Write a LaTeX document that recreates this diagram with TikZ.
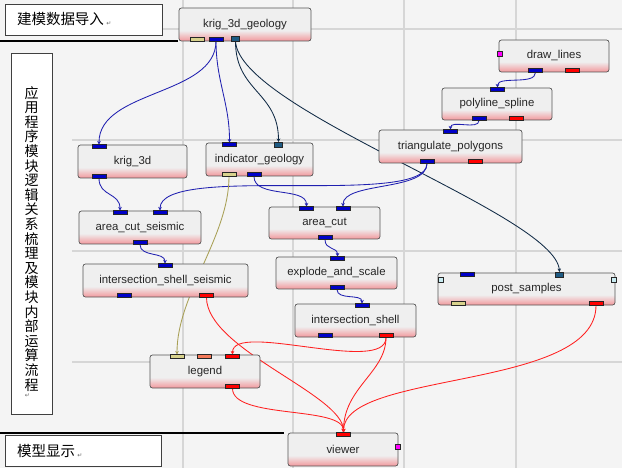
\documentclass[tikz,border=0pt]{standalone}
\usepackage{fontspec}
\setmainfont{Liberation Sans}
\newfontfamily\cjkFont{Noto Sans CJK SC}
\newfontfamily\symFont{DejaVu Sans}
\usetikzlibrary{arrows.meta}
\definecolor{bgGray}{HTML}{F4F4F4}
\definecolor{gridGray}{HTML}{D6D6D6}
\definecolor{boxGray}{HTML}{EFEFEF}
\definecolor{pinkShade}{HTML}{F2989C}
\definecolor{moduleBorder}{HTML}{555555}
\definecolor{portBlue}{HTML}{0000C8}
\definecolor{portRed}{HTML}{FF0000}
\definecolor{portTan}{HTML}{D8D28C}
\definecolor{portTeal}{HTML}{1E5A82}
\definecolor{portSalmon}{HTML}{F47A5A}
\definecolor{portMagenta}{HTML}{FF00FF}
\definecolor{portCyan}{HTML}{C8ECF2}
\definecolor{linkBlue}{HTML}{2020B0}
\definecolor{linkNavy}{HTML}{102A45}
\definecolor{linkOlive}{HTML}{A89F55}
\definecolor{linkRed}{HTML}{FF2020}
\pgfdeclareverticalshading{moduleShade}{100bp}{color(0bp)=(pinkShade); color(25bp)=(pinkShade); color(41bp)=(boxGray); color(100bp)=(boxGray)}
\pgfdeclarelayer{gridLayer}
\pgfdeclarelayer{linkLayer}
\pgfsetlayers{gridLayer,linkLayer,main}
\def\portWidth{14pt}
\def\portHeight{4pt}
\newcommand{\retMark}{\,{\symFont\fontsize{6}{6}\selectfont\color{black!60}\raisebox{-1pt}{↵}}}
\tikzset{
  gridLine/.style={draw=gridGray, line width=1.2pt},
  noteBox/.style={
    draw=black!75,
    fill=white,
    line width=0.6pt,
    inner sep=0pt,
    align=left,
    font=\cjkFont\fontsize{14.5}{16}\selectfont
  },
  logicText/.style={align=center, inner sep=0pt, font=\cjkFont\fontsize{14}{14.6}\selectfont},
  moduleNode/.style={
    draw=moduleBorder,
    line width=0.7pt,
    rounded corners=2.5pt,
    shading=moduleShade,
    minimum height=33pt,
    inner sep=0pt,
    text=black!85,
    font=\fontsize{11.4}{13}\selectfont
  },
  portNode/.style={
    draw=black!85,
    line width=0.5pt,
    minimum width=\portWidth,
    minimum height=\portHeight,
    inner sep=0pt,
    outer sep=0pt
  },
  bluePort/.style={portNode, fill=portBlue},
  redPort/.style={portNode, fill=portRed},
  tanPort/.style={portNode, fill=portTan},
  salmonPort/.style={portNode, fill=portSalmon},
  tealPort/.style={portNode, fill=portTeal, minimum width=8pt, minimum height=5pt},
  sidePort/.style={portNode, fill=portCyan, minimum width=5pt, minimum height=5pt},
  link/.style={line width=0.85pt, -{Stealth[length=3.5pt,width=3.5pt]}},
  blueLink/.style={link, draw=linkBlue},
  navyLink/.style={link, draw=linkNavy},
  oliveLink/.style={link, draw=linkOlive},
  redLink/.style={link, draw=linkRed}
}

\begin{document}
\begin{tikzpicture}[x=1pt,y=-1pt]
  \useasboundingbox (0,0) rectangle (622,468);
  \begin{pgfonlayer}{gridLayer}
    \fill[bgGray] (0,0) rectangle (622,468);
    \foreach \gx in {183,293,404,516}
      \draw[gridLine] (\gx,0) -- (\gx,468);
    \foreach \gy in {29,140,251,362}
      \draw[gridLine] (72,\gy) -- (622,\gy);
  \end{pgfonlayer}

  \draw[line width=2pt] (0,41) -- (178,41);
  \draw[line width=2pt] (0,433) -- (284,433);

  \node[noteBox, minimum width=157pt, minimum height=31pt, text width=133pt] (importBox) at (83.5,19.5) {建模数据导入\retMark};
  \node[noteBox, minimum width=156pt, minimum height=31pt, text width=132pt] (displayBox) at (83,450.5) {模型显示\retMark};
  \node[noteBox, minimum width=41pt, minimum height=361pt] (logicBox) at (31.5,233.5) {};
  \node[logicText, anchor=north] (logicLabel) at (31.5,86) {应\\用\\程\\序\\模\\块\\逻\\辑\\关\\系\\梳\\理\\及\\模\\块\\内\\部\\运\\算\\流\\程\\[-7pt]\hspace*{-8pt}{\symFont\fontsize{6}{6}\selectfont\color{black!60}↵}};

  \node[moduleNode, minimum width=132pt] (krigGeo) at (245,24.5) {krig\_3d\_geology};
  \node[moduleNode, minimum width=110pt, minimum height=32pt] (drawLines) at (554,56) {draw\_lines};
  \node[moduleNode, minimum width=110pt, minimum height=32pt] (spline) at (497,104) {polyline\_spline};
  \node[moduleNode, minimum width=143pt] (triangulate) at (450.5,146.5) {triangulate\_polygons};
  \node[moduleNode, minimum width=109pt] (krig) at (132.5,161.5) {krig\_3d};
  \node[moduleNode, minimum width=107pt] (indicator) at (259.5,159.5) {indicator\_geology};
  \node[moduleNode, minimum width=122pt] (cutSeismic) at (140,227.5) {area\_cut\_seismic};
  \node[moduleNode, minimum width=165pt] (shellSeismic) at (165.5,280.5) {intersection\_shell\_seismic};
  \node[moduleNode, minimum width=111pt, minimum height=32pt] (areaCut) at (324.5,223) {area\_cut};
  \node[moduleNode, minimum width=121pt, minimum height=32pt] (explode) at (336.5,273) {explode\_and\_scale};
  \node[moduleNode, minimum width=121pt] (shell) at (355.5,320.5) {intersection\_shell};
  \node[moduleNode, minimum width=177pt, minimum height=32pt] (post) at (526.5,289) {post\_samples};
  \node[moduleNode, minimum width=110pt] (legend) at (205,371.5) {legend};
  \node[moduleNode, minimum width=110pt] (viewer) at (343,449.5) {viewer};

  \node[tanPort] (krigGeoTan) at (197,39) {};
  \node[bluePort] (krigGeoBlue) at (216,39) {};
  \node[tealPort] (krigGeoTeal) at (235.5,39) {};
  \node[sidePort, fill=portMagenta] (drawLinesSide) at (499.5,53.5) {};
  \node[bluePort] (drawLinesBlue) at (535.5,70.5) {};
  \node[redPort] (drawLinesRed) at (572.5,70.5) {};
  \node[bluePort] (splineIn) at (497.5,89.5) {};
  \node[bluePort] (splineBlue) at (479,118.5) {};
  \node[redPort] (splineRed) at (516,118.5) {};
  \node[bluePort] (triIn) at (450.5,131.5) {};
  \node[bluePort] (triBlue) at (427,161.5) {};
  \node[redPort] (triRed) at (475,161.5) {};
  \node[bluePort] (krigIn) at (99,146.5) {};
  \node[bluePort] (krigBlue) at (99,176.5) {};
  \node[bluePort] (indIn) at (229.5,144.5) {};
  \node[tealPort] (indTeal) at (278.5,144.5) {};
  \node[tanPort] (indTan) at (229,174.5) {};
  \node[bluePort] (indBlue) at (254,174.5) {};
  \node[bluePort] (cutSeismicInA) at (120,212.5) {};
  \node[bluePort] (cutSeismicInB) at (160,212.5) {};
  \node[bluePort] (cutSeismicBlue) at (140,242.5) {};
  \node[bluePort] (shellSeismicIn) at (165,265.5) {};
  \node[bluePort] (shellSeismicBlue) at (124,295.5) {};
  \node[redPort] (shellSeismicRed) at (206.5,295.5) {};
  \node[bluePort] (areaCutInA) at (306.5,208.5) {};
  \node[bluePort] (areaCutInB) at (343,208.5) {};
  \node[bluePort] (areaCutBlue) at (325,237.5) {};
  \node[bluePort] (explodeIn) at (337.5,258.5) {};
  \node[bluePort] (explodeBlue) at (337,287.5) {};
  \node[bluePort] (shellIn) at (362,305.5) {};
  \node[bluePort] (shellBlue) at (325,335.5) {};
  \node[redPort] (shellRed) at (386,335.5) {};
  \node[bluePort] (postIn) at (467.5,274.5) {};
  \node[tealPort] (postTeal) at (559.5,274.5) {};
  \node[sidePort] (postLeft) at (440.5,279.5) {};
  \node[sidePort] (postRight) at (613.5,279.5) {};
  \node[tanPort] (postTan) at (458,303.5) {};
  \node[redPort] (postRed) at (596,303.5) {};
  \node[tanPort] (legendTan) at (177,356.5) {};
  \node[salmonPort] (legendSalmon) at (204.5,356.5) {};
  \node[redPort] (legendIn) at (232.5,356.5) {};
  \node[redPort] (legendRed) at (232.5,386.5) {};
  \node[redPort] (viewerIn) at (343.5,434.5) {};
  \node[sidePort, fill=portMagenta] (viewerSide) at (397.5,446.5) {};

  \begin{pgfonlayer}{linkLayer}
    \draw[blueLink] (krigGeoBlue.south) .. controls +(0,55) and +(0,-55) .. (krigIn.north);
    \draw[blueLink] (krigGeoBlue.south) .. controls +(0,40) and +(0,-40) .. (indIn.north);
    \draw[navyLink] (krigGeoTeal.south) .. controls +(0,50) and +(0,-50) .. (indTeal.north);
    \draw[navyLink] (krigGeoTeal.south) .. controls +(4.5,69) and +(-4.5,-58) .. (postTeal.north);
    \draw[blueLink] (drawLinesBlue.south) .. controls +(0,13) and +(0,-12) .. (splineIn.north);
    \draw[blueLink] (splineBlue.south) .. controls +(0,10) and +(0,-10) .. (triIn.north);
    \draw[blueLink] (krigBlue.south) .. controls +(0,18) and +(0,-18) .. (cutSeismicInA.north);
    \draw[blueLink] (triBlue.south) .. controls +(0,45) and +(0,-48) .. (cutSeismicInB.north);
    \draw[blueLink] (triBlue.south) .. controls +(0,28) and +(0,-25) .. (areaCutInB.north);
    \draw[blueLink] (indBlue.south) .. controls +(0,22) and +(0,-20) .. (areaCutInA.north);
    \draw[blueLink] (cutSeismicBlue.south) .. controls +(0,13) and +(0,-12) .. (shellSeismicIn.north);
    \draw[blueLink] (areaCutBlue.south) .. controls +(0,11) and +(0,-10) .. (explodeIn.north);
    \draw[blueLink] (explodeBlue.south) .. controls +(0,11) and +(0,-10) .. (shellIn.north);
    \draw[oliveLink] (indTan.south) .. controls +(0,60) and +(0,-60) .. (legendTan.north);
    \draw[redLink] (shellSeismicRed.south) .. controls +(0,52) and +(0,-38) .. (viewerIn.north);
    \draw[redLink] (shellRed.south) .. controls +(0,38) and +(0,-34) .. (legendIn.north);
    \draw[redLink] (shellRed.south) .. controls +(0,35) and +(0,-45) .. (viewerIn.north);
    \draw[redLink] (postRed.south) .. controls +(0,85) and +(0,-62) .. (viewerIn.north);
    \draw[redLink] (legendRed.south) .. controls +(0,31) and +(0,-27) .. (viewerIn.north);
  \end{pgfonlayer}
\end{tikzpicture}
\end{document}
